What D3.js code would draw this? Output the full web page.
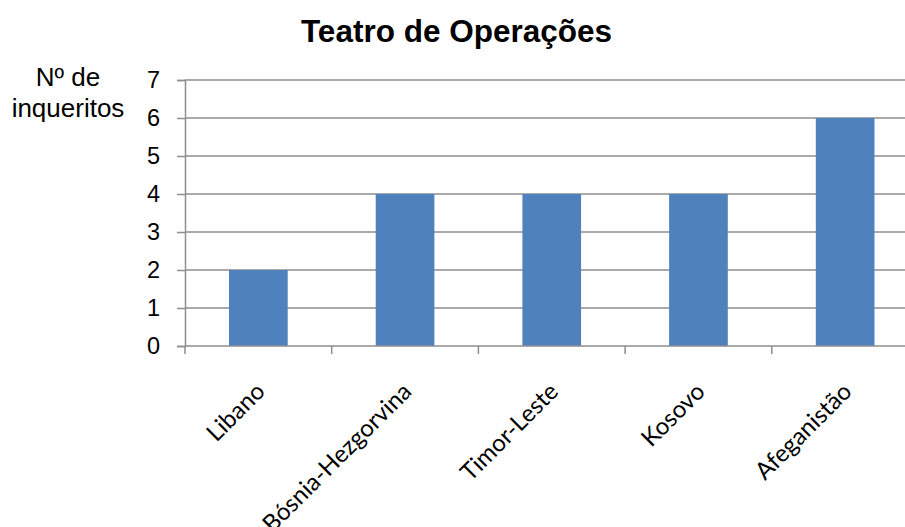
<!DOCTYPE html>
<html><head><meta charset="utf-8">
<script src="https://cdn.jsdelivr.net/npm/d3@7"></script>
<style>body{margin:0;background:#fff}svg{display:block}</style>
</head><body>
<script>
const categories = ["Libano", "Bósnia-Hezgorvina", "Timor-Leste", "Kosovo", "Afeganistão"];
const values = [2, 4, 4, 4, 6];
const yTicks = [0, 1, 2, 3, 4, 5, 6, 7];
const titleText = "Teatro de Operações";
const yTitleLines = ["Nº de", "inqueritos"];

const W = 905, H = 527;
const svg = d3.select("body").append("svg").attr("width", W).attr("height", H);

const x0 = 185, x1 = 918.5, yTop = 80, yBot = 346;
const x = d3.scaleBand().domain(categories).range([x0, x1]).paddingInner(0.6).paddingOuter(0.3);
const y = d3.scaleLinear().domain([0, 7]).range([yBot, yTop]);
const grey = "#8e8e8e";

// gridlines
svg.append("g").selectAll("line").data(yTicks.filter(d => d > 0)).join("line")
  .attr("x1", x0).attr("x2", x1).attr("y1", d => y(d)).attr("y2", d => y(d))
  .attr("stroke", grey).attr("stroke-width", 1.5);

// bars
svg.append("g").selectAll("rect").data(values).join("rect")
  .attr("x", (d, i) => x(categories[i])).attr("width", x.bandwidth())
  .attr("y", d => y(d)).attr("height", d => y(0) - y(d))
  .attr("fill", "#4f81bd");

// y axis
const yAxis = d3.axisLeft(y).tickValues(yTicks).tickSize(8).tickPadding(17).tickFormat(d3.format("d"));
const gy = svg.append("g").attr("transform", `translate(${x0},0)`).call(yAxis);
gy.select(".domain").attr("stroke", grey).attr("stroke-width", 1.5);
gy.selectAll(".tick line").attr("stroke", grey).attr("stroke-width", 1.5);
gy.selectAll(".tick text").attr("font-family", "Liberation Sans, Arial, sans-serif").attr("font-size", 23.5).attr("fill", "#000");

// x axis baseline + ticks at band boundaries
const step = x.step();
const bounds = d3.range(categories.length + 1).map(i => x0 + i * step);
svg.append("line").attr("x1", x0).attr("x2", x1).attr("y1", yBot).attr("y2", yBot)
  .attr("stroke", grey).attr("stroke-width", 1.5);
svg.append("g").selectAll("line").data(bounds).join("line")
  .attr("x1", d => d).attr("x2", d => d).attr("y1", yBot).attr("y2", yBot + 8)
  .attr("stroke", grey).attr("stroke-width", 1.5);

// category labels
svg.append("g").selectAll("text").data(categories).join("text")
  .attr("transform", d => `translate(${x(d) + x.bandwidth() / 2 + 8},393) rotate(-45)`)
  .attr("text-anchor", "end")
  .attr("font-family", "Lato, sans-serif").attr("font-size", 24).attr("fill", "#000")
  .text(d => d);

// title
svg.append("text").attr("x", 456.5).attr("y", 42).attr("text-anchor", "middle")
  .attr("font-family", "Liberation Sans, Arial, sans-serif").attr("font-weight", "bold")
  .attr("font-size", 31.5).text(titleText);

// y title
svg.append("g").selectAll("text").data(yTitleLines).join("text")
  .attr("x", 68).attr("y", (d, i) => 86 + i * 31).attr("text-anchor", "middle")
  .attr("font-family", "Liberation Sans, Arial, sans-serif").attr("font-size", 26).text(d => d);
</script>
</body></html>
